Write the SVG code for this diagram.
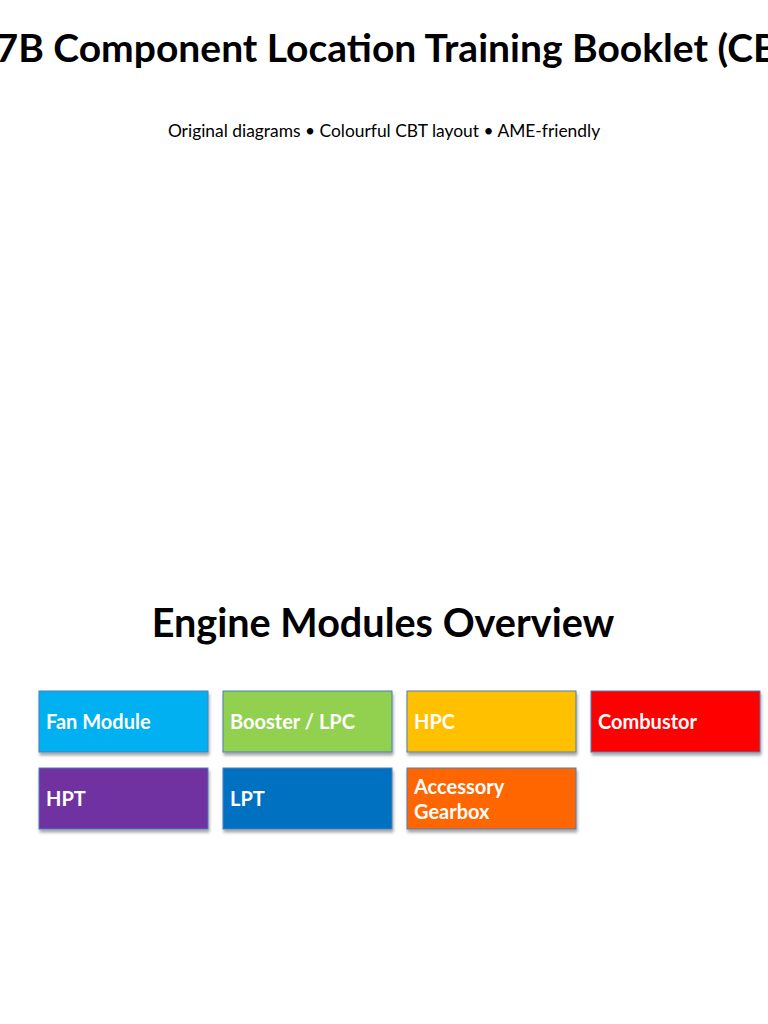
<svg xmlns="http://www.w3.org/2000/svg" width="768" height="1024" viewBox="0 0 768 1024">
<defs>
<filter id="sh" x="-10%" y="-10%" width="130%" height="140%">
<feDropShadow dx="1" dy="3" stdDeviation="1.5" flood-color="#000" flood-opacity="0.35"/>
</filter>
</defs>
<style>
.t{font-family:Lato,"Liberation Sans",sans-serif;fill:#000}
.box{stroke:#4a7ebb;stroke-width:1;filter:url(#sh)}
.lbl{font-family:Lato,"Liberation Sans",sans-serif;font-weight:bold;font-size:20px;fill:#fff}
</style>
<rect width="768" height="1024" fill="#fff"/>
<text class="t" x="-149" y="62" font-size="39" font-weight="bold">CFM56-7B Component Location Training Booklet (CBT)</text>
<text class="t" x="384" y="137" font-size="17.4" text-anchor="middle">Original diagrams • Colourful CBT layout • AME-friendly</text>
<text class="t" x="383" y="637" font-size="39.6" font-weight="bold" text-anchor="middle">Engine Modules Overview</text>
<g id="fan"><rect class="box" x="39" y="691" width="169" height="61" fill="#00B0F0"/><text class="lbl" x="46" y="729">Fan Module</text></g>
<g id="booster"><rect class="box" x="223" y="691" width="169" height="61" fill="#92D050"/><text class="lbl" x="230" y="729">Booster / LPC</text></g>
<g id="hpc"><rect class="box" x="407" y="691" width="169" height="61" fill="#FFC000"/><text class="lbl" x="414" y="729">HPC</text></g>
<g id="combustor"><rect class="box" x="591" y="691" width="169" height="61" fill="#FF0000"/><text class="lbl" x="598" y="729">Combustor</text></g>
<g id="hpt"><rect class="box" x="39" y="768" width="169" height="61" fill="#7030A0"/><text class="lbl" x="46" y="806">HPT</text></g>
<g id="lpt"><rect class="box" x="223" y="768" width="169" height="61" fill="#0070C0"/><text class="lbl" x="230" y="806">LPT</text></g>
<g id="agb"><rect class="box" x="407" y="768" width="169" height="61" fill="#FF6600"/><text class="lbl" x="414" y="794">Accessory</text><text class="lbl" x="414" y="819">Gearbox</text></g>
<g id="connectors"/>
</svg>
